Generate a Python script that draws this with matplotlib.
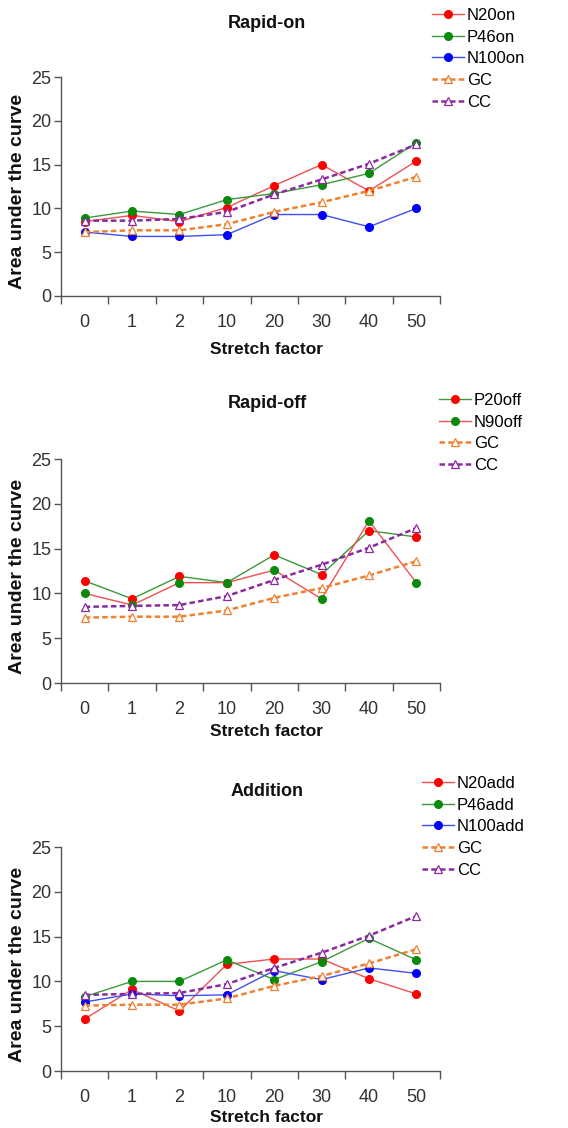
import numpy as np
import matplotlib.pyplot as plt
from matplotlib import rcParams

rcParams['font.family'] = ['Liberation Sans', 'DejaVu Sans']

categories = ['0', '1', '2', '10', '20', '30', '40', '50']

# Rapid-on
n20on = [8.5, 9.2, 8.5, 10.1, 12.6, 15.0, 12.0, 15.4]
p46on = [8.9, 9.7, 9.3, 11.0, 11.7, 12.7, 14.0, 17.5]
n100on = [7.3, 6.8, 6.8, 7.0, 9.3, 9.3, 7.9, 10.0]
gc_on = [7.3, 7.5, 7.5, 8.2, 9.6, 10.7, 12.0, 13.6]
cc_on = [8.6, 8.6, 8.8, 9.6, 11.6, 13.3, 15.1, 17.3]

# Rapid-off
p20off = [11.4, 9.4, 11.9, 11.2, 14.3, 12.1, 17.0, 16.3]
n90off = [10.0, 8.7, 11.2, 11.2, 12.6, 9.4, 18.1, 11.2]
gc_off = [7.3, 7.4, 7.4, 8.1, 9.5, 10.6, 12.0, 13.6]
cc_off = [8.5, 8.6, 8.7, 9.7, 11.5, 13.2, 15.1, 17.3]

# Addition
n20add = [5.8, 9.1, 6.7, 11.9, 12.5, 12.5, 10.3, 8.6]
p46add = [8.3, 10.0, 10.0, 12.4, 10.2, 12.2, 14.8, 12.4]
n100add = [7.7, 8.6, 8.4, 8.5, 11.2, 10.2, 11.5, 10.9]
gc_add = [7.3, 7.4, 7.4, 8.1, 9.5, 10.6, 12.0, 13.6]
cc_add = [8.5, 8.6, 8.7, 9.7, 11.5, 13.2, 15.1, 17.3]

RED = '#ff0000'; RED_L = '#f05050'
GRN = '#0a8a0a'; GRN_L = '#3a9a3a'
BLU = '#0000ff'; BLU_L = '#4050f0'
ORG = '#f08030'; PUR = '#8a2aa0'
AX = '#555555'

W, H = 568, 1128
fig = plt.figure(figsize=(W/100, H/100), dpi=100)


def px_axes(top, bottom, left=61, right=440):
    return fig.add_axes([left/W, 1-bottom/H, (right-left)/W, (bottom-top)/H])


def solid(ax, y, mc, lc, label):
    ax.plot(range(len(y)), y, '-', color=lc, lw=1.0, marker='o', ms=5.5,
            mfc=mc, mec=mc, label=label, zorder=3)


def dashed(ax, y, c, label):
    ax.plot(range(len(y)), y, '--', color=c, lw=1.8, dashes=(2.2, 1.3),
            marker='^', ms=6, mfc='white', mec=c, mew=0.9, label=label, zorder=4)


def style(ax, top, bottom, title, title_y, xl_y, leg_top, leg_x):
    x = np.arange(len(categories))
    ax.set_xlim(-0.5, len(categories)-0.5)
    ax.set_ylim(0, 25)
    ax.set_yticks([0, 5, 10, 15, 20, 25])
    ax.set_xticks(x)
    ax.set_xticklabels(categories)
    ax.set_xticks(np.arange(-0.5, len(categories)), minor=True)
    ax.tick_params(axis='x', which='major', length=0, pad=13, labelsize=13, labelcolor='#333333')
    ax.tick_params(axis='x', which='minor', length=6, width=1, color=AX, direction='out')
    ax.tick_params(axis='y', length=5, width=1, color=AX, pad=2, labelsize=13, labelcolor='#333333')
    for s in ['top', 'right']:
        ax.spines[s].set_visible(False)
    for s in ['left', 'bottom']:
        ax.spines[s].set_color(AX)
        ax.spines[s].set_linewidth(1.0)
    fig.text(18/W, 1-((top+bottom)/2+5)/H, 'Area under the curve', rotation=90,
             ha='center', va='center', fontsize=14, fontweight='bold', color='#111111')
    fig.text(267/W, 1-title_y/H, title, ha='center', va='center', fontsize=13,
             fontweight='bold', color='#111111')
    fig.text(267/W, 1-xl_y/H, 'Stretch factor', ha='center', va='center', fontsize=12.5,
             fontweight='bold', color='#111111')
    ax.legend(loc='upper left', bbox_to_anchor=(leg_x/W, 1-leg_top/H),
              bbox_transform=fig.transFigure, frameon=False, fontsize=12,
              borderpad=0, borderaxespad=0, handlelength=1.9, handletextpad=0.2,
              labelspacing=0.4)


ax1 = px_axes(77, 296)
solid(ax1, n20on, RED, RED_L, 'N20on')
solid(ax1, p46on, GRN, GRN_L, 'P46on')
solid(ax1, n100on, BLU, BLU_L, 'N100on')
dashed(ax1, gc_on, ORG, 'GC')
dashed(ax1, cc_on, PUR, 'CC')
style(ax1, 77, 296, 'Rapid-on', 23, 350, 8, 432)

ax2 = px_axes(459, 683)
# marker and line colours are swapped in the original legend
solid(ax2, p20off, RED, GRN_L, 'P20off')
solid(ax2, n90off, GRN, RED_L, 'N90off')
dashed(ax2, gc_off, ORG, 'GC')
dashed(ax2, cc_off, PUR, 'CC')
style(ax2, 459, 683, 'Rapid-off', 403, 731, 393, 439)

ax3 = px_axes(847, 1071)
solid(ax3, n20add, RED, RED_L, 'N20add')
solid(ax3, p46add, GRN, GRN_L, 'P46add')
solid(ax3, n100add, BLU, BLU_L, 'N100add')
dashed(ax3, gc_add, ORG, 'GC')
dashed(ax3, cc_add, PUR, 'CC')
style(ax3, 847, 1071, 'Addition', 791, 1118, 776, 422)

fig.savefig('out.png', dpi=100)
